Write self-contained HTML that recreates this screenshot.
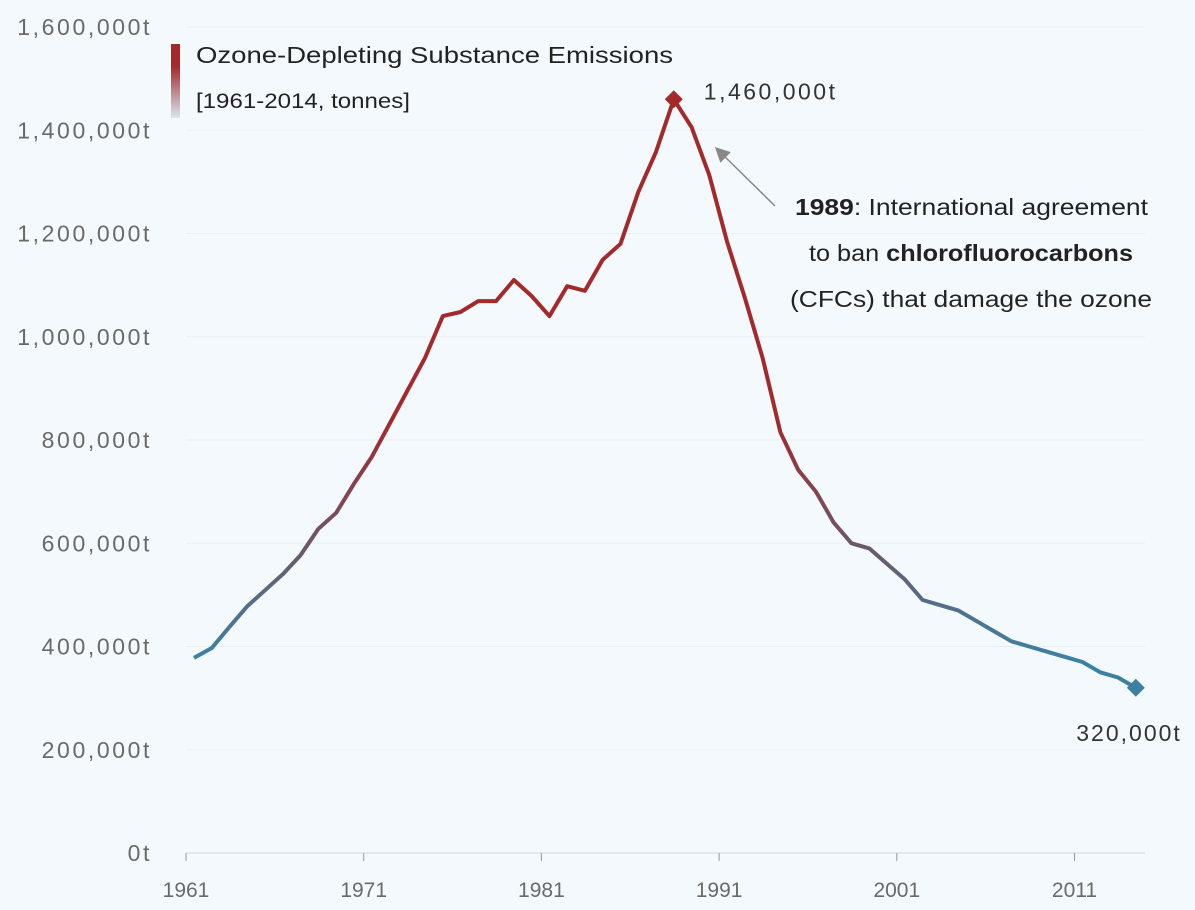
<!DOCTYPE html>
<html><head><meta charset="utf-8"><style>
html,body{margin:0;padding:0;background:#f3f9fc;}
svg{display:block;font-family:"Liberation Sans",sans-serif;}
</style></head><body>
<svg id="chart" width="1195" height="910">
<defs>
<linearGradient id="lg" gradientUnits="userSpaceOnUse" x1="0" y1="0" x2="0" y2="910">
<stop offset="0.46" stop-color="#a3292b"/><stop offset="0.72" stop-color="#3e80a2"/></linearGradient>
<linearGradient id="leg" x1="0" y1="0" x2="0" y2="1">
<stop offset="0.3" stop-color="#a3292b"/><stop offset="1" stop-color="#d8e6f2"/></linearGradient>
<marker id="ah" markerWidth="10" markerHeight="10" refX="9" refY="5" orient="auto"><path d="M0,0 L10,5 L0,10 z" fill="#888"/></marker>
</defs>
<g id="grid"></g><g id="axes"></g>
<path id="line" fill="none" stroke="url(#lg)" stroke-width="4" stroke-linejoin="round"/>
<g id="marks"></g>
<rect x="171" y="44" width="9" height="74" fill="url(#leg)"/>
<text x="196" y="63" font-size="23" fill="#222" textLength="477" lengthAdjust="spacingAndGlyphs">Ozone-Depleting Substance Emissions</text>
<text x="196" y="108" font-size="21" fill="#222" textLength="214" lengthAdjust="spacingAndGlyphs">[1961-2014, tonnes]</text>
<line x1="775" y1="206" x2="716" y2="148" stroke="#888" stroke-width="1.5" marker-end="url(#ah)"/>
<g font-size="23" fill="#222">
<text x="795" y="215" textLength="353" lengthAdjust="spacingAndGlyphs"><tspan font-weight="bold">1989</tspan>: International agreement</text>
<text x="809" y="261" textLength="324" lengthAdjust="spacingAndGlyphs">to ban <tspan font-weight="bold">chlorofluorocarbons</tspan></text>
<text x="790" y="307" textLength="362" lengthAdjust="spacingAndGlyphs">(CFCs) that damage the ozone</text>
</g>
</svg>
<script>
const years=[];for(let y=1961;y<=2014;y++)years.push(y);
const values=[378,397,438,478,509,540,577,628,659,715,767,831,895,959,1040,1048,1069,1069,1110,1079,1040,1098,1089,1149,1180,1280,1358,1460,1406,1313,1184,1075,959,815,742,700,640,600,590,560,530,490,480,470,450,430,410,400,390,380,370,350,340,320].map(v=>v*1000);
const yTicks=[0,200000,400000,600000,800000,1000000,1200000,1400000,1600000];
const xTicks=[1961,1971,1981,1991,2001,2011];
const NS="http://www.w3.org/2000/svg";
const X=y=>186+(y-1961+0.45)*17.77;
const XT=y=>186+(y-1961)*17.77;
const Y=v=>853-v/200000*103.25;
const fmt=v=>v.toLocaleString('en-US')+'t';
const grid=document.getElementById('grid'),axes=document.getElementById('axes'),marks=document.getElementById('marks');
function mk(tag,attrs,parent){const e=document.createElementNS(NS,tag);for(const k in attrs)e.setAttribute(k,attrs[k]);parent.appendChild(e);return e;}
yTicks.forEach(v=>{
 const l=mk('line',{x1:186,x2:1145,y1:Y(v),y2:Y(v),stroke:v===0?'#cfd8dc':'#e9f0f4','stroke-width':1},grid);
 
 
 const t=mk('text',{x:152,y:Y(v)+8,'text-anchor':'end','font-size':23,fill:'#6a6a6a','letter-spacing':'2.6'},axes);t.textContent=fmt(v);
 
 
});
xTicks.forEach(yr=>{
 const l=mk('line',{x1:XT(yr),x2:XT(yr),y1:853,y2:861,stroke:'#999'},axes);
 
 
 const t=mk('text',{x:XT(yr),y:897,'text-anchor':'middle','font-size':21,fill:'#6a6a6a'},axes);t.textContent=yr;
 
 
});
document.getElementById('line').setAttribute('d',values.map((v,i)=>(i?'L':'M')+X(years[i]).toFixed(1)+','+Y(v).toFixed(1)).join(''));
let pi=values.indexOf(Math.max(...values)),li=values.length-1;
[[pi,'#a3292b','peak-marker'],[li,'#3e80a2','end-marker']].forEach(([i,c,n])=>{
 const x=X(years[i]),y=Y(values[i]);
 const d=mk('path',{d:`M${x},${y-9}L${x+9},${y}L${x},${y+9}L${x-9},${y}z`,fill:c},marks);
 
 
});
const pl=mk('text',{x:X(years[pi])+30,y:Y(values[pi])+0,'font-size':23,fill:'#333','letter-spacing':'2.5'},marks);pl.textContent=fmt(values[pi]);


const el=mk('text',{x:X(years[li])+46,y:Y(values[li])+53,'font-size':23,fill:'#333','text-anchor':'end','letter-spacing':'2'},marks);el.textContent=fmt(values[li]);


</script>
</body></html>
